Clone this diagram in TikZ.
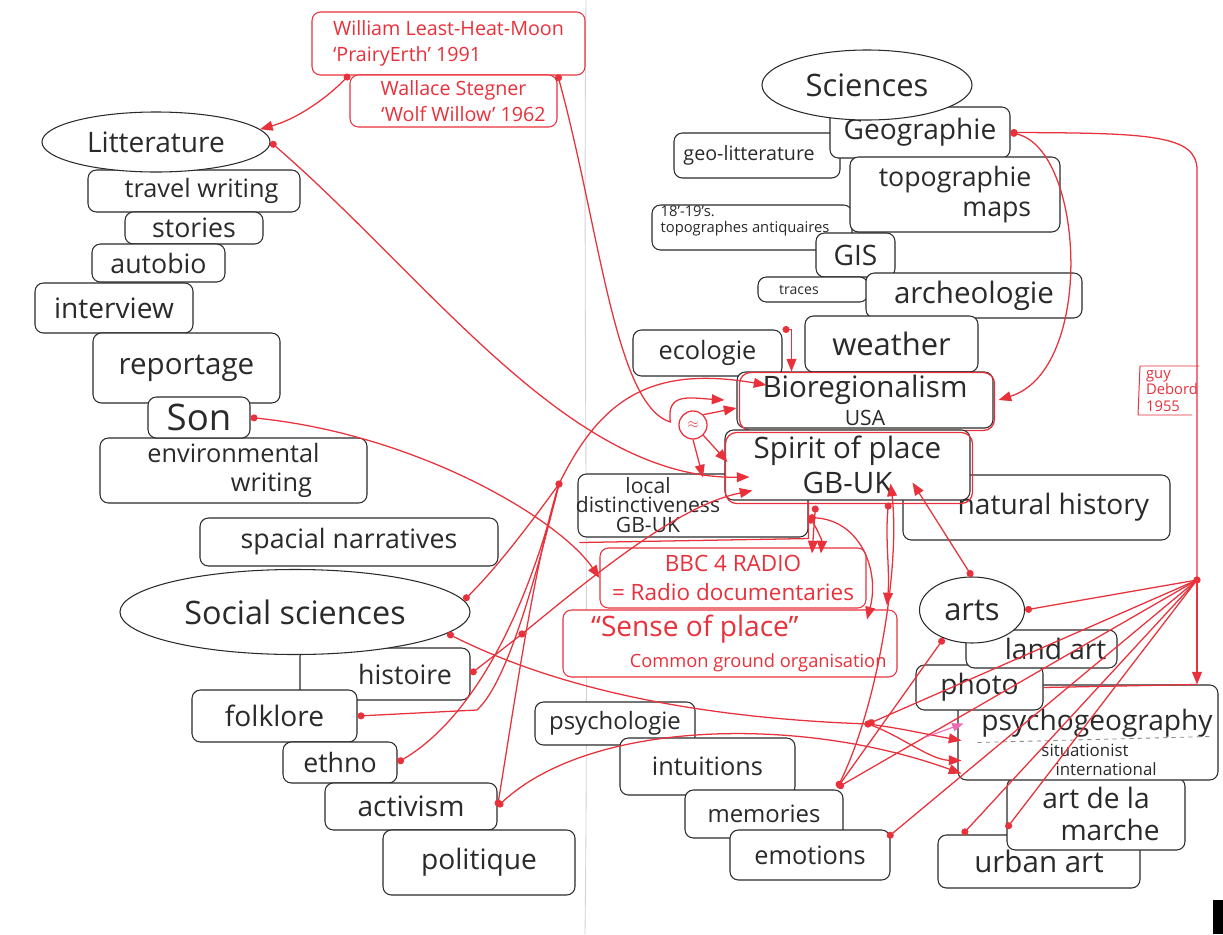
\documentclass[tikz,border=0pt]{standalone}
\usepackage{fontspec}
\setmainfont{Open Sans}
\usetikzlibrary{arrows.meta,shapes.geometric,calc}
\definecolor{pen}{HTML}{2A2A2A}
\definecolor{rd}{HTML}{E8313B}
\definecolor{pk}{HTML}{F06AB4}
\newcommand{\myfz}[2]{\fontsize{#1}{#2}\selectfont}
\newcommand{\bxnode}[7]{%
  \pgfmathsetmacro\bxcx{(#3+#5)/2}%
  \pgfmathsetmacro\bxcy{(#4+#6)/2}%
  \pgfmathsetmacro\bxw{(#5-#3)*0.025}%
  \pgfmathsetmacro\bxh{(#6-#4)*0.025}%
  \node[#1, minimum width=\bxw cm, minimum height=\bxh cm] (#2) at (\bxcx,\bxcy) {#7};}
\begin{document}
\begin{tikzpicture}[x=0.025cm,y=-0.025cm,
  bx/.style={draw=pen, line width=0.75pt, rounded corners=6pt, fill=white, inner sep=0pt, align=center, text=pen},
  rbx/.style={bx, draw=rd, text=rd},
  ell/.style={ellipse, draw=pen, line width=0.75pt, fill=white, inner sep=0pt, text=pen, align=center},
  lbl/.style={inner sep=0pt, text=pen, align=center},
  rl/.style={draw=rd, line width=0.9pt},
  dot/.style={rl, {Circle[length=5pt]}-{Triangle[length=9pt,width=7pt]}},
  dn/.style={rl, {Circle[length=5pt]}-},
  ar/.style={rl, -{Triangle[length=9pt,width=7pt]}}]
\useasboundingbox (0,0) rectangle (1223,934);
\fill[white] (0,0) rectangle (1223,934);
% paper fold
\draw[gray!35, line width=0.6pt] (586,0) .. controls (583,300) and (589,600) .. (585,934);
\fill[black] (1213,900) rectangle (1223,934);

% ---- literature column
\bxnode{bx, font=\myfz{18}{20}}{travel}{88}{170}{300}{212}{\hspace*{0.6em}travel writing}
\node[ell, minimum width=5.7cm, minimum height=1.5cm, font=\myfz{20}{22}] (lit) at (156,142) {Litterature};
\bxnode{bx, font=\myfz{19}{21}}{stories}{125}{212}{263}{244}{stories}
\bxnode{bx, font=\myfz{19}{21}}{autobio}{92}{244}{225}{282}{autobio}
\bxnode{bx, font=\myfz{20}{22}}{interview}{35}{283}{193}{333}{interview}
\bxnode{bx, font=\myfz{21}{23}}{reportage}{93}{333}{280}{403}{reportage}
\bxnode{bx, font=\myfz{18}{21}}{envw}{100}{438}{367}{503}{environmental\\ \hspace*{3em}writing}
\bxnode{bx, font=\myfz{26}{28}}{son}{148}{397}{250}{438}{Son}

% ---- social sciences
\bxnode{bx, font=\myfz{19}{21}}{spacial}{200}{518}{498}{566}{spacial narratives}
\bxnode{bx, font=\myfz{19}{21}}{hist}{300}{648}{470}{700}{\hspace*{1.5em}histoire}
\node[ell, minimum width=8.75cm, minimum height=2.125cm, font=\myfz{23}{25}] (soc) at (295,612) {Social sciences};
\bxnode{bx, font=\myfz{20}{22}}{folk}{192}{690}{357}{742}{folklore}
\bxnode{bx, font=\myfz{19}{21}}{ethno}{283}{742}{397}{783}{ethno}
\bxnode{bx, font=\myfz{20}{22}}{activ}{325}{783}{497}{830}{activism}
\bxnode{bx, font=\myfz{20}{22}}{polit}{383}{830}{575}{895}{politique}

% ---- sciences
\bxnode{bx, font=\myfz{14}{16}}{geolit}{674}{133}{840}{178}{geo-litterature\hspace*{0.8em}}
\bxnode{bx, font=\myfz{20}{22}}{geo}{830}{107}{1010}{158}{Geographie}
\node[ell, minimum width=5.25cm, minimum height=1.75cm, font=\myfz{22}{24}] (sci) at (867,85) {Sciences};
\bxnode{bx}{antiq}{652}{205}{852}{250}{}
\node[lbl, font=\myfz{10.5}{11.5}, align=left] (antiqtxt) at (745,221) {18'-19's.\\topographes antiquaires};
\bxnode{bx, font=\myfz{19}{21}, align=right}{topo}{850}{157}{1060}{232}{topographie\\maps}
\bxnode{bx, font=\myfz{20}{22}}{gis}{816}{233}{895}{277}{GIS}
\bxnode{bx, font=\myfz{10}{11}}{traces}{758}{277}{868}{302}{traces\hspace*{2em}}
\bxnode{bx, font=\myfz{21}{23}}{arch}{866}{273}{1082}{318}{archeologie}
\bxnode{bx, font=\myfz{18}{20}}{ecol}{633}{330}{782}{376}{ecologie}
\bxnode{bx, font=\myfz{22}{24}}{weather}{805}{316}{978}{372}{weather}
\bxnode{bx, font=\myfz{21}{20}}{bio}{737}{372}{993}{428}{Bioregionalism\\{\myfz{15}{16}USA}}
\draw[rl, rounded corners=8pt] ($(bio.north west)+(3,1)$) rectangle ($(bio.south east)+(1,2)$);
\bxnode{bx}{local}{578}{474}{808}{537}{}
\node[lbl, font=\myfz{15}{14}] (localtxt) at (648,505) {local\\distinctiveness\\GB-UK};
\draw[rl] ($(local.south west)+(2,5)$) -- ($(local.south east)+(0,1)$) -- ($(local.east)+(0,-4)$);
\bxnode{bx, font=\myfz{20}{22}}{nat}{903}{475}{1170}{540}{\hspace*{1.2em}natural history}
\bxnode{bx, font=\myfz{21}{25}}{spirit}{725}{430}{970}{500}{Spirit of place\\GB-UK}
\draw[rl, rounded corners=8pt] ($(spirit.north west)+(1,3)$) rectangle ($(spirit.south east)+(2,3)$);
\bxnode{rbx, font=\myfz{16}{20}}{bbc}{600}{548}{866}{608}{BBC 4 RADIO\\= Radio documentaries}
\bxnode{rbx, font=\myfz{20}{22}}{sense}{563}{610}{897}{677}{“Sense of place”\hspace*{2.5em}\\\hspace*{2em}{\myfz{13}{14}Common ground organisation}}
\node[circle, draw=rd, line width=0.9pt, fill=white, minimum size=0.7cm, inner sep=0pt, text=rd] (face) at (693,425) {$\approx$};

% ---- red references
\bxnode{rbx, font=\myfz{14}{18}, align=left}{wlhm}{312}{12}{585}{75}{William Least-Heat-Moon\\‘PrairyErth’ 1991}
\bxnode{rbx, font=\myfz{14}{18}}{steg}{350}{75}{557}{127}{Wallace Stegner\\\hspace*{1em}‘Wolf Willow’ 1962}
\node[font=\myfz{10.5}{11.5}, text=rd, align=left, inner sep=0pt] (guy) at (1172,391) {guy\\Debord\\1955};
\draw[rl, line width=0.7pt] (1199,366) -- (1140,366) -- (1138,415) -- (1192,415);

% ---- arts
\bxnode{bx, font=\myfz{21}{23}}{urban}{938}{835}{1140}{888}{urban art}
\bxnode{bx, font=\myfz{20}{23}}{marche}{1007}{778}{1185}{850}{art de la\\\hspace*{1em}marche}
\bxnode{bx}{psy}{958}{685}{1218}{780}{}
\node[lbl, font=\myfz{20}{22}] (psytitle) at (1097,723) {psychogeography};
\node[lbl, font=\myfz{12}{14}] (psysub) at (1085,760) {situationist\\\hspace*{2.5em}international};
\draw[pen!55, dashed, line width=0.6pt] ($(psy.west)+(20,10)$) -- ($(psy.east)+(-8,4)$);
\bxnode{bx, font=\myfz{20}{22}}{photo}{916}{665}{1043}{710}{photo}
\bxnode{bx, font=\myfz{20}{22}}{land}{966}{630}{1117}{668}{\hspace*{1em}land art}
\node[ell, minimum width=2.625cm, minimum height=1.65cm, font=\myfz{22}{24}] (arts) at (972,610) {arts};

% ---- psychology
\bxnode{bx, font=\myfz{17}{19}}{psychol}{535}{702}{695}{745}{psychologie}
\bxnode{bx, font=\myfz{18}{20}}{intu}{620}{738}{795}{795}{intuitions}
\bxnode{bx, font=\myfz{17}{19}}{memo}{685}{790}{843}{838}{memories}
\bxnode{bx, font=\myfz{18}{20}}{emo}{730}{830}{890}{880}{emotions}

% ---- junction points
\coordinate (J) at (1197,580);
\coordinate (gbend) at (1197,170);
\coordinate (K) at (559,484);
\coordinate (psydot) at (868,724);
\coordinate (histdot) at (522,634);
\coordinate (folkbend) at (477,710);

% ---- red connectors
\draw[dot] (steg.north west) .. controls (330,95) and (300,118) .. (lit.7);
\draw[dot] (lit.east) .. controls (430,280) and (570,480) .. ($(spirit.west)+(25,12)$);
\draw[dot] (steg.north east) .. controls (600,230) and (615,405) .. ($(face.west)+(-8,-3)$) .. controls (666,392) and (690,398) .. ($(bio.west)+(-12,0)$);
\draw[ar] (face.north east) -- ($(bio.west)+(0,8)$);
\draw[ar] (face.south east) -- ($(spirit.west)+(3,-3)$);
\draw[ar] (face.south) -- ($(local.north)+(10,4)$);
\draw[dot] (ecol.north east) -| ($(bio.north west)+(55,0)$);
\draw[dot] (geo.east) .. controls (1085,150) and (1095,370) .. ($(bio.east)+(5,0)$);
\draw[dn] (geo.east) .. controls (1150,133) and (1197,135) .. (gbend) -- (J);
\draw[ar] (J) -- (J |- psy.north);
\draw[rl] (photo.east) -- (J |- psy.north);
\draw[dot] (son.east) .. controls (420,435) and (560,520) .. (bbc.west);
\draw[dot] ($(spirit.south)+(-32,5)$) -- ($(bbc.north)+(79,6)$);
\draw[dot] ($(local.south east)+(0,-20)$) .. controls (815,525) and (822,540) .. ($(bbc.north)+(88,6)$);
\draw[dot] ($(local.south east)+(0,-20)$) .. controls (860,520) and (880,570) .. ($(sense.north)+(137,10)$);
\draw[dot] ($(spirit.south east)+(-82,2)$) .. controls (885,540) and (890,570) .. ($(sense.north)+(157,-4)$);
\draw[dot] (arts.north) -- ($(spirit.south east)+(-58,-18)$);
\draw[dot] ($(memo.north east)+(-6,-2)$) .. controls (880,700) and (900,560) .. ($(spirit.south east)+(-80,-17)$);
\draw[dn] (arts.east) -- (J);
\draw[dn] ($(memo.north east)+(-6,-2)$) -- (J);
\draw[dn] ($(emo.north east)+(-3,8)$) -- (J);
\draw[dn] ($(urban.north west)+(25,0)$) -- (J);
\draw[dn] ($(marche.south west)+(0,-22)$) -- (J);
\draw[dn] (psydot) -- (J);
\draw[dn] (arts.225) -- ($(memo.north east)+(-6,-2)$);
\fill[rd] (J) circle (2.6pt);
\draw[dn] (soc.-8) .. controls (560,690) and (700,718) .. (psydot);
\draw[ar] (psydot) .. controls (900,728) and (930,735) .. ($(psy.west)+(4,8)$);
\draw[ar] (psydot) .. controls (900,735) and (930,760) .. ($(psy.west)+(4,28)$);
\fill[rd] (psydot) circle (2.6pt);
\draw[dot] (activ.east) .. controls (590,720) and (800,715) .. ($(psy.south west)+(4,-7)$);
\draw[pk, line width=0.8pt, -{Triangle[length=8pt,width=6pt]}] ($(psy.west)+(-33,5)$) -- ($(psy.west)+(6,-9)$);
% social sciences fan
\draw[dn] (soc.4) .. controls (500,565) and (540,510) .. (K);
\draw[dn] (folk.east) -- (folkbend) .. controls (510,680) and (540,560) .. (K);
\draw[dn] (ethno.east) .. controls (470,720) and (525,620) .. (K);
\draw[dn] (activ.east) .. controls (515,700) and (535,560) .. (K);
\draw[ar] (K) .. controls (600,400) and (650,365) .. ($(bio.west)+(30,-15)$);
\fill[rd] (K) circle (2.6pt);
\draw[dot] (hist.east) -- (histdot) .. controls (600,570) and (680,505) .. ($(spirit.south west)+(28,-10)$);
\fill[rd] (histdot) circle (2.6pt);
\end{tikzpicture}
\end{document}
